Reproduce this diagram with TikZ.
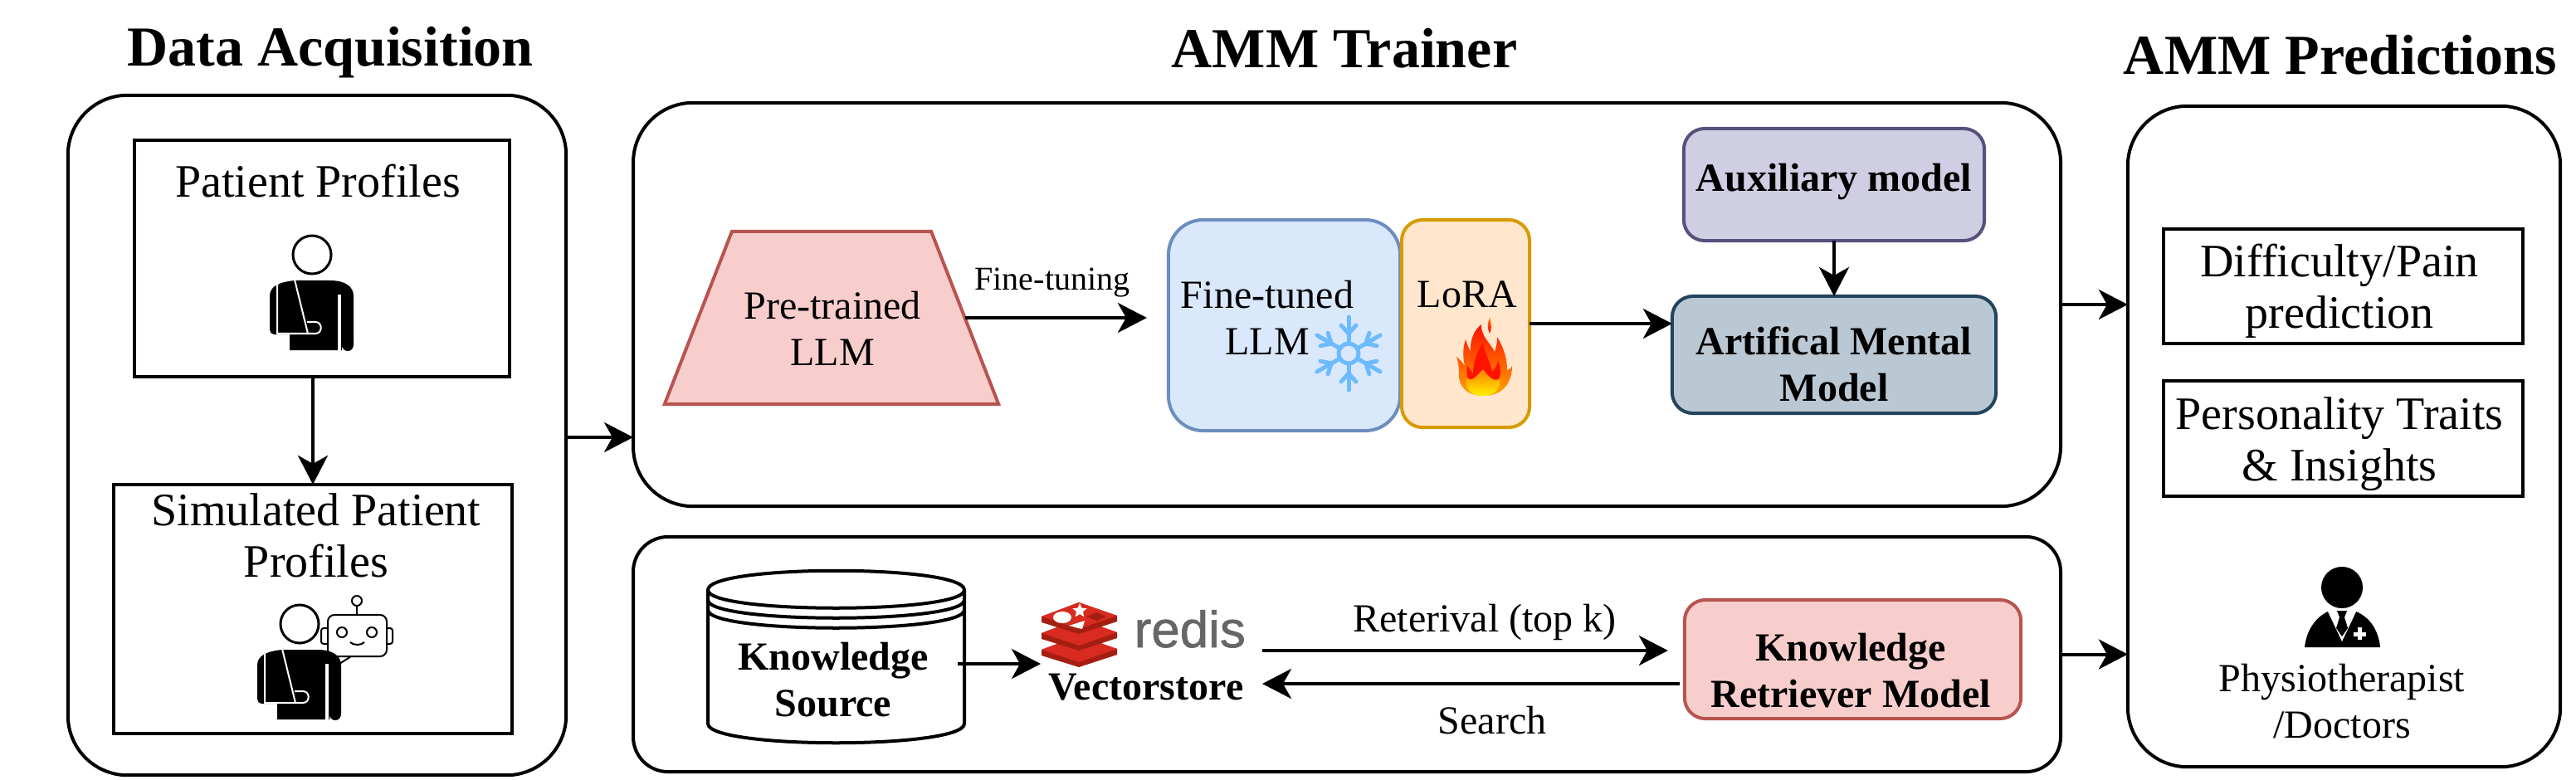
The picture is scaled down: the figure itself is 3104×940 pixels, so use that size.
\documentclass[tikz,border=0pt]{standalone}
\usepackage{fontspec}
\setmainfont{Liberation Serif}
\newfontfamily\logofont[FakeBold=1]{Liberation Sans}
\usepackage{tikz}
\usetikzlibrary{
    arrows.meta,
    positioning,
    shapes.geometric
}
\definecolor{llmred}{HTML}{F8CECC}
\definecolor{llmredline}{HTML}{B85450}
\definecolor{tunedblue}{HTML}{DAE8FC}
\definecolor{tunedblueline}{HTML}{6C8EBF}
\definecolor{loraorange}{HTML}{FFE6CC}
\definecolor{loraorangeline}{HTML}{D79B00}
\definecolor{auxpurple}{HTML}{D0CEE2}
\definecolor{auxpurpleline}{HTML}{56517E}
\definecolor{mentalgrey}{HTML}{BAC8D3}
\definecolor{mentalgreyline}{HTML}{23445D}
\definecolor{snowblue}{HTML}{6DBBFF}
\definecolor{redisbright}{HTML}{D92B21}
\definecolor{redisdark}{HTML}{A41E11}
\definecolor{redisgrey}{HTML}{666666}
\tikzset{
    % Text styles
    title text/.style={font=\fontsize{19.35pt}{22pt}\selectfont\bfseries, inner sep=0pt},
    big text/.style={font=\fontsize{15.93pt}{17.7pt}\selectfont, align=center, inner sep=0pt},
    small text/.style={font=\fontsize{13.66pt}{16.1pt}\selectfont, align=center, inner sep=0pt},
    small bold/.style={small text, font=\fontsize{13.66pt}{16.1pt}\selectfont\bfseries},
    tiny text/.style={font=\fontsize{11.4pt}{13pt}\selectfont, inner sep=0pt},
    % Box styles
    group box/.style={
        draw,
        line width=0.04cm,
        rectangle,
        rounded corners=#1,
        outer sep=0pt,
        inner sep=0pt
    },
    group box/.default=0.72cm,
    plain box/.style={
        draw,
        line width=0.04cm,
        rectangle,
        outer sep=0pt,
        align=center,
        inner sep=0pt
    },
    model box/.style={
        line width=0.04cm,
        rectangle,
        rounded corners=0.25cm,
        outer sep=0pt,
        align=center,
        inner sep=0pt
    },
    % Arrow styles
    flow arrow/.style={
        -{Stealth[length=0.35cm,width=0.36cm,inset=0.1cm]},
        line width=0.04cm
    },
    % Icons
    patient icon/.pic={
        \draw[line width=0.03cm] (0,0) circle (0.23cm);
        \fill (-21,31) -- (21,31) .. controls (40,31) and (50,38) .. (50,50)
            -- (50,108) .. controls (50,113) and (47,116) .. (43,116)
            .. controls (39,116) and (36,113) .. (36,108) -- (36,115) -- (-27,115)
            -- (-27,96) -- (-46,96) .. controls (-49,96) and (-51,93) .. (-51,90)
            -- (-51,50) .. controls (-51,38) and (-40,33) .. (-21,31) -- cycle;
        \draw[white, line width=0.02cm] (-42,33) -- (-42,95) -- (4,95)
            .. controls (13,95) and (13,81) .. (4,81) -- (-6,81);
        \draw[white, line width=0.02cm] (-21,30) -- (-5,95);
        \draw[white, line width=0.04cm] (33,48) -- (33,117);
    },
    flake arm/.style={snowblue, line width=0.05cm, line cap=round}
}

\begin{document}
\begin{tikzpicture}[x=0.01cm,y=-0.01cm]
    \useasboundingbox (0,0) rectangle (3104,940);

    % Titles
    \node[title text] (acqtitle) at (398,63) {Data Acquisition};
    \node[title text] (trainertitle) at (1620,58) {AMM Trainer};
    \node[title text] (predtitle) at (2820,66) {AMM Predictions};

    % Group boxes
    \node[group box, minimum width=6cm, minimum height=8.19cm] (acq) at (382,524.5) {};
    \node[group box, minimum width=17.19cm, minimum height=4.86cm] (trainer) at (1623,367) {};
    \node[group box=0.42cm, minimum width=17.19cm, minimum height=2.83cm] (retr) at (1623,788.5) {};
    \node[group box, minimum width=5.21cm, minimum height=7.96cm] (pred) at (2824.5,526) {};

    % Data acquisition
    \node[plain box, minimum width=4.52cm, minimum height=2.85cm] (patient) at (388,311.5) {};
    \node[big text] (patientlabel) at (383,218) {Patient Profiles};
    \pic at (376,307) {patient icon};
    \node[plain box, minimum width=4.8cm, minimum height=3cm] (simulated) at (377,734) {};
    \node[big text] (simulatedlabel) at (381,645) {Simulated Patient\\Profiles};
    % Robot head
    \draw[line width=0.02cm, rounded corners=0.08cm] (395,741) rectangle (466,791);
    \draw[line width=0.02cm, rounded corners=0.03cm] (395,757) -- (387,757) -- (387,776) -- (395,776);
    \draw[line width=0.02cm, rounded corners=0.03cm] (466,757) -- (473,757) -- (473,776) -- (466,776);
    \draw[line width=0.02cm] (430,741) -- (430,730);
    \draw[line width=0.02cm] (430,724) circle (0.06cm);
    \draw[line width=0.02cm] (412,762) circle (0.06cm);
    \draw[line width=0.02cm] (448,762) circle (0.06cm);
    \draw[line width=0.02cm] (422,774) .. controls (426,778) and (435,778) .. (439,774);
    \draw[line width=0.02cm] (409,800) -- (423,791);
    \pic at (361,752) {patient icon};

    % Trainer
    \node[trapezium, trapezium left angle=68.7, trapezium right angle=68.7,
        draw=llmredline, fill=llmred, line width=0.04cm, outer sep=0pt, inner sep=0pt]
        (pretrained) at (1002,383) {\phantom{\rule{2.4cm}{2.08cm}}};
    \node[small text] (pretrainedlabel) at (1003,396) {Pre-trained\\LLM};
    \node[model box, draw=tunedblueline, fill=tunedblue, rounded corners=0.42cm,
        minimum width=2.79cm, minimum height=2.54cm] (tuned) at (1547.5,392) {};
    \node[small text] (tunedlabel) at (1527,383) {Fine-tuned\\LLM};
    \node[model box, draw=loraorangeline, fill=loraorange,
        minimum width=1.54cm, minimum height=2.5cm] (lora) at (1766,390) {};
    \node[small text] (loralabel) at (1768,355) {LoRA};
    \node[model box, draw=auxpurpleline, fill=auxpurple,
        minimum width=3.62cm, minimum height=1.35cm] (aux) at (2210,222.5) {};
    \node[small bold] (auxlabel) at (2210,219) {Auxiliary model};
    \node[model box, draw=mentalgreyline, fill=mentalgrey,
        minimum width=3.9cm, minimum height=1.41cm] (mental) at (2210,427.5) {};
    \node[small bold] (mentallabel) at (2210,439) {Artifical Mental\\Model};

    % Snowflake
    \draw[snowblue, line width=0.05cm] (1625,426) circle (0.12cm);
    \foreach \ang in {30,90,...,330} {
        \begin{scope}[shift={(1625,426)}, rotate=\ang]
            \draw[flake arm] (12,0) -- (44,0);
            \draw[flake arm] (24,0) -- (34,9);
            \draw[flake arm] (24,0) -- (34,-9);
        \end{scope}
    }

    % Flame
    \shade[top color=red!90!orange, bottom color=orange!70!yellow]
        (1787,477) .. controls (1768,477) and (1757,466) .. (1758,450)
        .. controls (1758,442) and (1757,436) .. (1755,430)
        .. controls (1760,434) and (1763,438) .. (1765,441)
        .. controls (1762,428) and (1763,418) .. (1766,409)
        .. controls (1768,416) and (1770,420) .. (1772,424)
        .. controls (1771,410) and (1776,398) .. (1785,391)
        .. controls (1784,405) and (1795,412) .. (1801,424)
        .. controls (1804,415) and (1804,411) .. (1804,406)
        .. controls (1811,418) and (1816,430) .. (1816,446)
        .. controls (1818,446) and (1820,445) .. (1822,441)
        .. controls (1822,455) and (1816,477) .. (1787,477) -- cycle;
    \shade[top color=orange, bottom color=red]
        (1795,383) .. controls (1792,390) and (1792,396) .. (1795,402)
        .. controls (1798,396) and (1797,390) .. (1795,383) -- cycle;
    \fill[red!85!orange]
        (1787,470) .. controls (1772,470) and (1765,455) .. (1768,440)
        .. controls (1771,445) and (1773,447) .. (1775,450)
        .. controls (1775,435) and (1780,425) .. (1787,412)
        .. controls (1788,425) and (1796,435) .. (1798,448)
        .. controls (1801,445) and (1804,440) .. (1805,435)
        .. controls (1812,450) and (1806,470) .. (1787,470) -- cycle;
    \shade[top color=orange, bottom color=yellow!90!orange]
        (1787,477) .. controls (1772,477) and (1764,468) .. (1768,455)
        .. controls (1773,462) and (1780,452) .. (1787,445)
        .. controls (1792,452) and (1800,462) .. (1807,456)
        .. controls (1810,468) and (1800,477) .. (1787,477) -- cycle;

    % Knowledge source
    \draw[line width=0.04cm, fill=white] (853,711) .. controls (853,680) and (1162,680) .. (1162,711)
        -- (1162,872) .. controls (1162,903) and (853,903) .. (853,872) -- cycle;
    \draw[line width=0.04cm] (853,711) .. controls (853,740) and (1162,740) .. (1162,711);
    \draw[line width=0.04cm] (853,723) .. controls (853,752) and (1162,752) .. (1162,723);
    \draw[line width=0.04cm] (853,735) .. controls (853,764) and (1162,764) .. (1162,735);
    \node[minimum width=2.94cm, minimum height=2.06cm, outer sep=0pt, inner sep=0pt] (source) at (1007,792) {};
    \node[small bold] (sourcelabel) at (1004,819) {Knowledge\\Source};

    % Redis logo
    \foreach \d in {40,20,0} {
        \fill[redisdark] (1255,743+\d) -- (1300,726+\d) -- (1346,742+\d) -- (1346,749+\d)
            -- (1300,764+\d) -- (1255,750+\d) -- cycle;
        \fill[redisbright] (1255,743+\d) -- (1300,726+\d) -- (1346,742+\d) -- (1300,758+\d) -- cycle;
    }
    \fill[white] (1280,744) ellipse (0.11cm and 0.07cm);
    \node[star, star points=5, star point ratio=2.2, fill=white, minimum size=0.18cm, inner sep=0pt] (redisstar) at (1301,736) {};
    \fill[white] (1288,754) -- (1307,748) -- (1304,758) -- cycle;
    \fill[redisdark] (1309,743) -- (1322,738) -- (1333,743) -- (1322,748) -- cycle;
    \node[font=\logofont\fontsize{17.6pt}{20pt}\selectfont, text=redisgrey, anchor=base west, inner sep=0pt] (redisword) at (1366,780) {redis};
    \node[small bold] (vectorstore) at (1381,828) {Vectorstore};
    \coordinate (storein) at (1254,800);
    \coordinate (storeout) at (1521,784);
    \coordinate (storeback) at (1521,824);

    % Retriever
    \node[model box, draw=llmredline, fill=llmred,
        minimum width=4.05cm, minimum height=1.43cm] (retriever) at (2232.5,794.5) {};
    \node[small bold] (retrieverlabel) at (2230,808) {Knowledge\\Retriever Model};

    % Predictions
    \node[plain box, minimum width=4.33cm, minimum height=1.38cm] (pain) at (2823.5,345) {};
    \node[big text] (painlabel) at (2819,351) {Difficulty/Pain\\prediction};
    \node[plain box, minimum width=4.33cm, minimum height=1.39cm] (traits) at (2823.5,528.5) {};
    \node[big text] (traitslabel) at (2819,535) {Personality Traits\\\& Insights};
    % Doctor
    \fill (2822,708) circle (0.25cm);
    \fill (2777,780) .. controls (2779,760) and (2790,744) .. (2805,737) -- (2839,737)
        .. controls (2856,744) and (2866,760) .. (2868,780) -- cycle;
    \fill[white] (2804,735) -- (2822,773) -- (2840,735) -- cycle;
    \fill (2816,736) -- (2828,736) -- (2825,744) -- (2829,757) -- (2822,767) -- (2815,757) -- (2819,744) -- cycle;
    \draw[white, line width=0.05cm] (2843,756) -- (2843,771) (2836,764) -- (2851,764);
    \node[small text] (doctorlabel) at (2822,845) {Physiotherapist\\/Doctors};

    % Connectors
    \draw[flow arrow] (patient.south -| simulated.north) -- (simulated.north);
    \draw[flow arrow] (acq.east |- 0,527) -- (trainer.west |- 0,527);
    \draw[flow arrow] (trainer.east |- 0,367) -- (pred.west |- 0,367);
    \draw[flow arrow] (retr.east) -- (pred.west |- retr.east);
    \draw[flow arrow, shorten >=0.26cm] (pretrained.east) -- (tuned.west |- pretrained.east);
    \node[tiny text] (tunelabel) at (1268,341) {Fine-tuning};
    \draw[flow arrow] (lora.east) -- (mental.west |- lora.east);
    \draw[flow arrow] (aux.south) -- (mental.north);
    \draw[flow arrow] (source.east |- storein) -- (storein);
    \draw[flow arrow, shorten >=0.2cm] (storeout) -- (retriever.west |- storeout);
    \draw[flow arrow, shorten <=0.06cm] (retriever.west |- storeback) -- (storeback);
    \node[small text] (retrievallabel) at (1789,750) {Reterival (top k)};
    \node[small text] (searchlabel) at (1798,868) {Search};
\end{tikzpicture}
\end{document}
